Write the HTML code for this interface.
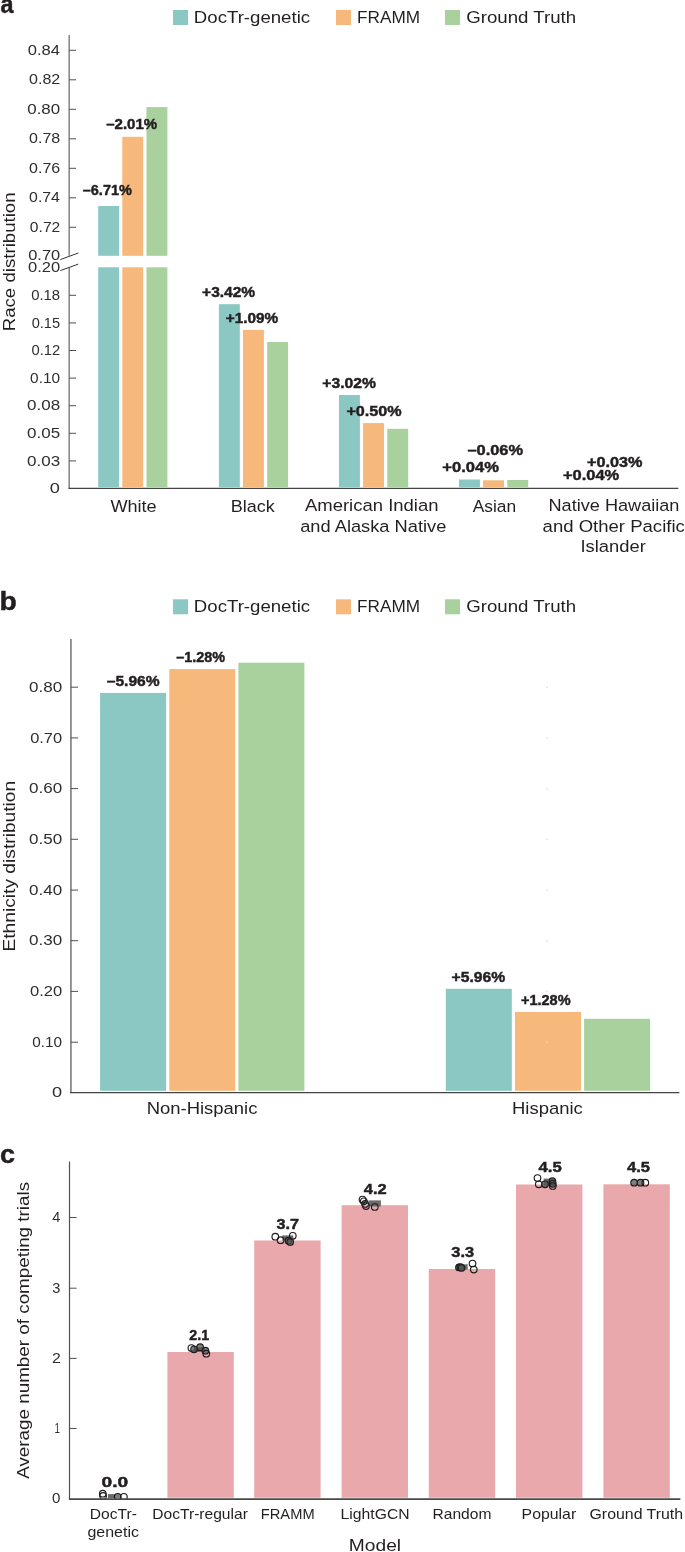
<!DOCTYPE html>
<html><head><meta charset="utf-8"><style>
html,body{margin:0;padding:0;background:#fff;overflow:hidden;}
svg{display:block;will-change:transform;}
text{font-family:"Liberation Sans", sans-serif;}
</style></head><body>
<svg width="685" height="1552" viewBox="0 0 685 1552">
<rect width="685" height="1552" fill="#ffffff"/>
<text x="0.44" y="13.13" font-size="24.92" font-weight="bold" fill="#231f20" stroke="#231f20" stroke-width="0.45" textLength="12.99" lengthAdjust="spacingAndGlyphs">a</text>
<text x="-0.54" y="610.13" font-size="24.99" font-weight="bold" fill="#231f20" stroke="#231f20" stroke-width="0.45" textLength="17.27" lengthAdjust="spacingAndGlyphs">b</text>
<text x="0.07" y="1163.23" font-size="24.92" font-weight="bold" fill="#231f20" stroke="#231f20" stroke-width="0.45" textLength="14.99" lengthAdjust="spacingAndGlyphs">c</text>
<rect x="173.00" y="10.00" width="15.00" height="15.00" fill="#8bc8c3"/>
<rect x="336.00" y="10.00" width="15.00" height="15.00" fill="#f6b97b"/>
<rect x="445.00" y="10.00" width="15.00" height="15.00" fill="#a8d19d"/>
<text x="193.88" y="22.60" font-size="16.8" font-weight="normal" fill="#231f20" textLength="116.21" lengthAdjust="spacingAndGlyphs">DocTr-genetic</text>
<text x="357.09" y="22.60" font-size="16.8" font-weight="normal" fill="#231f20" textLength="62.92" lengthAdjust="spacingAndGlyphs">FRAMM</text>
<text x="466.27" y="22.60" font-size="16.8" font-weight="normal" fill="#231f20" textLength="109.93" lengthAdjust="spacingAndGlyphs">Ground Truth</text>
<rect x="173.00" y="599.30" width="15.00" height="15.00" fill="#8bc8c3"/>
<rect x="336.00" y="599.30" width="15.00" height="15.00" fill="#f6b97b"/>
<rect x="445.00" y="599.30" width="15.00" height="15.00" fill="#a8d19d"/>
<text x="193.88" y="611.90" font-size="16.8" font-weight="normal" fill="#231f20" textLength="116.21" lengthAdjust="spacingAndGlyphs">DocTr-genetic</text>
<text x="357.09" y="611.90" font-size="16.8" font-weight="normal" fill="#231f20" textLength="62.92" lengthAdjust="spacingAndGlyphs">FRAMM</text>
<text x="466.27" y="611.90" font-size="16.8" font-weight="normal" fill="#231f20" textLength="109.93" lengthAdjust="spacingAndGlyphs">Ground Truth</text>
<line x1="69.20" y1="35.00" x2="69.20" y2="255.80" stroke="#8a8a8a" stroke-width="1.6"/>
<line x1="69.20" y1="267.30" x2="69.20" y2="488.50" stroke="#8a8a8a" stroke-width="1.6"/>
<line x1="60.30" y1="259.60" x2="78.30" y2="253.00" stroke="#333" stroke-width="1.0"/>
<line x1="60.30" y1="270.60" x2="78.30" y2="264.10" stroke="#333" stroke-width="1.0"/>
<line x1="69.20" y1="50.30" x2="76.00" y2="50.30" stroke="#505050" stroke-width="1.0"/>
<text x="27.75" y="54.90" font-size="14.8" font-weight="normal" fill="#2e2e2e" textLength="32.23" lengthAdjust="spacingAndGlyphs">0.84</text>
<line x1="69.20" y1="79.80" x2="76.00" y2="79.80" stroke="#505050" stroke-width="1.0"/>
<text x="29.07" y="84.40" font-size="14.8" font-weight="normal" fill="#2e2e2e" textLength="31.23" lengthAdjust="spacingAndGlyphs">0.82</text>
<line x1="69.20" y1="109.30" x2="76.00" y2="109.30" stroke="#505050" stroke-width="1.0"/>
<text x="27.24" y="113.90" font-size="14.8" font-weight="normal" fill="#2e2e2e" textLength="32.92" lengthAdjust="spacingAndGlyphs">0.80</text>
<line x1="69.20" y1="138.80" x2="76.00" y2="138.80" stroke="#505050" stroke-width="1.0"/>
<text x="29.08" y="143.40" font-size="14.8" font-weight="normal" fill="#2e2e2e" textLength="31.12" lengthAdjust="spacingAndGlyphs">0.78</text>
<line x1="69.20" y1="168.30" x2="76.00" y2="168.30" stroke="#505050" stroke-width="1.0"/>
<text x="29.08" y="172.90" font-size="14.8" font-weight="normal" fill="#2e2e2e" textLength="31.13" lengthAdjust="spacingAndGlyphs">0.76</text>
<line x1="69.20" y1="197.80" x2="76.00" y2="197.80" stroke="#505050" stroke-width="1.0"/>
<text x="29.08" y="202.40" font-size="14.8" font-weight="normal" fill="#2e2e2e" textLength="30.88" lengthAdjust="spacingAndGlyphs">0.74</text>
<line x1="69.20" y1="227.30" x2="76.00" y2="227.30" stroke="#505050" stroke-width="1.0"/>
<text x="29.89" y="231.90" font-size="14.8" font-weight="normal" fill="#2e2e2e" textLength="30.40" lengthAdjust="spacingAndGlyphs">0.72</text>
<line x1="69.20" y1="295.30" x2="76.00" y2="295.30" stroke="#505050" stroke-width="1.0"/>
<text x="31.22" y="299.90" font-size="14.8" font-weight="normal" fill="#2e2e2e" textLength="28.93" lengthAdjust="spacingAndGlyphs">0.18</text>
<line x1="69.20" y1="322.90" x2="76.00" y2="322.90" stroke="#505050" stroke-width="1.0"/>
<text x="31.73" y="327.50" font-size="14.8" font-weight="normal" fill="#2e2e2e" textLength="28.38" lengthAdjust="spacingAndGlyphs">0.15</text>
<line x1="69.20" y1="350.50" x2="76.00" y2="350.50" stroke="#505050" stroke-width="1.0"/>
<text x="31.52" y="355.10" font-size="14.8" font-weight="normal" fill="#2e2e2e" textLength="28.72" lengthAdjust="spacingAndGlyphs">0.12</text>
<line x1="69.20" y1="378.10" x2="76.00" y2="378.10" stroke="#505050" stroke-width="1.0"/>
<text x="30.10" y="382.70" font-size="14.8" font-weight="normal" fill="#2e2e2e" textLength="30.00" lengthAdjust="spacingAndGlyphs">0.10</text>
<line x1="69.20" y1="405.70" x2="76.00" y2="405.70" stroke="#505050" stroke-width="1.0"/>
<text x="27.14" y="410.30" font-size="14.8" font-weight="normal" fill="#2e2e2e" textLength="33.10" lengthAdjust="spacingAndGlyphs">0.08</text>
<line x1="69.20" y1="433.30" x2="76.00" y2="433.30" stroke="#505050" stroke-width="1.0"/>
<text x="27.14" y="437.90" font-size="14.8" font-weight="normal" fill="#2e2e2e" textLength="33.08" lengthAdjust="spacingAndGlyphs">0.05</text>
<line x1="69.20" y1="460.90" x2="76.00" y2="460.90" stroke="#505050" stroke-width="1.0"/>
<text x="27.14" y="465.50" font-size="14.8" font-weight="normal" fill="#2e2e2e" textLength="33.11" lengthAdjust="spacingAndGlyphs">0.03</text>
<text x="28.26" y="260.10" font-size="14.8" font-weight="normal" fill="#2e2e2e" textLength="31.88" lengthAdjust="spacingAndGlyphs">0.70</text>
<text x="27.95" y="271.90" font-size="14.8" font-weight="normal" fill="#2e2e2e" textLength="32.19" lengthAdjust="spacingAndGlyphs">0.20</text>
<text x="49.89" y="492.90" font-size="14.8" font-weight="normal" fill="#2e2e2e" textLength="10.12" lengthAdjust="spacingAndGlyphs">0</text>
<line x1="68.40" y1="488.40" x2="678.30" y2="488.40" stroke="#444" stroke-width="1.3"/>
<rect x="98.20" y="206.00" width="20.90" height="49.80" fill="#8bc8c3"/>
<rect x="98.20" y="267.30" width="20.90" height="220.00" fill="#8bc8c3"/>
<rect x="122.30" y="136.80" width="20.90" height="119.00" fill="#f6b97b"/>
<rect x="122.30" y="267.30" width="20.90" height="220.00" fill="#f6b97b"/>
<rect x="146.50" y="107.10" width="20.90" height="148.70" fill="#a8d19d"/>
<rect x="146.50" y="267.30" width="20.90" height="220.00" fill="#a8d19d"/>
<rect x="218.90" y="304.20" width="20.90" height="183.10" fill="#8bc8c3"/>
<rect x="243.00" y="329.90" width="20.90" height="157.40" fill="#f6b97b"/>
<rect x="267.20" y="342.00" width="20.90" height="145.30" fill="#a8d19d"/>
<rect x="339.00" y="395.00" width="20.90" height="92.30" fill="#8bc8c3"/>
<rect x="363.10" y="423.10" width="20.90" height="64.20" fill="#f6b97b"/>
<rect x="387.30" y="428.80" width="20.90" height="58.50" fill="#a8d19d"/>
<rect x="459.00" y="479.50" width="20.90" height="7.80" fill="#8bc8c3"/>
<rect x="483.10" y="480.30" width="20.90" height="7.00" fill="#f6b97b"/>
<rect x="507.30" y="480.00" width="20.90" height="7.30" fill="#a8d19d"/>
<text x="82.79" y="194.65" font-size="14.2" font-weight="bold" fill="#231f20" stroke="#231f20" stroke-width="0.45" textLength="49.07" lengthAdjust="spacingAndGlyphs">–6.71%</text>
<text x="106.17" y="129.05" font-size="14.2" font-weight="bold" fill="#231f20" stroke="#231f20" stroke-width="0.45" textLength="51.00" lengthAdjust="spacingAndGlyphs">–2.01%</text>
<text x="202.07" y="297.05" font-size="14.2" font-weight="bold" fill="#231f20" stroke="#231f20" stroke-width="0.45" textLength="53.11" lengthAdjust="spacingAndGlyphs">+3.42%</text>
<text x="225.68" y="322.55" font-size="14.2" font-weight="bold" fill="#231f20" stroke="#231f20" stroke-width="0.45" textLength="52.50" lengthAdjust="spacingAndGlyphs">+1.09%</text>
<text x="322.37" y="388.25" font-size="14.2" font-weight="bold" fill="#231f20" stroke="#231f20" stroke-width="0.45" textLength="53.62" lengthAdjust="spacingAndGlyphs">+3.02%</text>
<text x="346.45" y="416.05" font-size="14.2" font-weight="bold" fill="#231f20" stroke="#231f20" stroke-width="0.45" textLength="55.25" lengthAdjust="spacingAndGlyphs">+0.50%</text>
<text x="467.43" y="454.85" font-size="14.2" font-weight="bold" fill="#231f20" stroke="#231f20" stroke-width="0.45" textLength="55.58" lengthAdjust="spacingAndGlyphs">–0.06%</text>
<text x="442.33" y="471.75" font-size="14.2" font-weight="bold" fill="#231f20" stroke="#231f20" stroke-width="0.45" textLength="56.58" lengthAdjust="spacingAndGlyphs">+0.04%</text>
<text x="586.94" y="467.25" font-size="14.2" font-weight="bold" fill="#231f20" stroke="#231f20" stroke-width="0.45" textLength="55.46" lengthAdjust="spacingAndGlyphs">+0.03%</text>
<text x="562.93" y="480.45" font-size="14.2" font-weight="bold" fill="#231f20" stroke="#231f20" stroke-width="0.45" textLength="56.28" lengthAdjust="spacingAndGlyphs">+0.04%</text>
<text x="110.42" y="511.50" font-size="17.2" font-weight="normal" fill="#231f20" textLength="46.28" lengthAdjust="spacingAndGlyphs">White</text>
<text x="230.73" y="511.50" font-size="17.2" font-weight="normal" fill="#231f20" textLength="43.95" lengthAdjust="spacingAndGlyphs">Black</text>
<text x="304.96" y="511.30" font-size="17.2" font-weight="normal" fill="#231f20" textLength="133.54" lengthAdjust="spacingAndGlyphs">American Indian</text>
<text x="300.23" y="531.80" font-size="17.2" font-weight="normal" fill="#231f20" textLength="146.08" lengthAdjust="spacingAndGlyphs">and Alaska Native</text>
<text x="472.67" y="511.50" font-size="17.2" font-weight="normal" fill="#231f20" textLength="43.46" lengthAdjust="spacingAndGlyphs">Asian</text>
<text x="548.51" y="511.30" font-size="17.2" font-weight="normal" fill="#231f20" textLength="130.96" lengthAdjust="spacingAndGlyphs">Native Hawaiian</text>
<text x="542.61" y="531.60" font-size="17.2" font-weight="normal" fill="#231f20" textLength="142.18" lengthAdjust="spacingAndGlyphs">and Other Pacific</text>
<text x="580.51" y="551.90" font-size="17.2" font-weight="normal" fill="#231f20" textLength="65.30" lengthAdjust="spacingAndGlyphs">Islander</text>
<text transform="translate(14.80,329.80) rotate(-90)" x="-1.53" y="0" font-size="16.8" font-weight="normal" fill="#231f20" textLength="138.94" lengthAdjust="spacingAndGlyphs">Race distribution</text>
<line x1="70.90" y1="639.00" x2="70.90" y2="1092.50" stroke="#8a8a8a" stroke-width="1.8"/>
<line x1="70.90" y1="687.20" x2="78.00" y2="687.20" stroke="#505050" stroke-width="1.0"/>
<text x="29.04" y="691.80" font-size="14.8" font-weight="normal" fill="#2e2e2e" textLength="33.13" lengthAdjust="spacingAndGlyphs">0.80</text>
<line x1="70.90" y1="737.90" x2="78.00" y2="737.90" stroke="#505050" stroke-width="1.0"/>
<text x="30.16" y="742.50" font-size="14.8" font-weight="normal" fill="#2e2e2e" textLength="31.98" lengthAdjust="spacingAndGlyphs">0.70</text>
<line x1="70.90" y1="788.60" x2="78.00" y2="788.60" stroke="#505050" stroke-width="1.0"/>
<text x="29.04" y="793.20" font-size="14.8" font-weight="normal" fill="#2e2e2e" textLength="33.13" lengthAdjust="spacingAndGlyphs">0.60</text>
<line x1="70.90" y1="839.30" x2="78.00" y2="839.30" stroke="#505050" stroke-width="1.0"/>
<text x="29.04" y="843.90" font-size="14.8" font-weight="normal" fill="#2e2e2e" textLength="33.13" lengthAdjust="spacingAndGlyphs">0.50</text>
<line x1="70.90" y1="890.10" x2="78.00" y2="890.10" stroke="#505050" stroke-width="1.0"/>
<text x="29.04" y="894.70" font-size="14.8" font-weight="normal" fill="#2e2e2e" textLength="33.13" lengthAdjust="spacingAndGlyphs">0.40</text>
<line x1="70.90" y1="940.70" x2="78.00" y2="940.70" stroke="#505050" stroke-width="1.0"/>
<text x="29.04" y="945.30" font-size="14.8" font-weight="normal" fill="#2e2e2e" textLength="33.13" lengthAdjust="spacingAndGlyphs">0.30</text>
<line x1="70.90" y1="991.40" x2="78.00" y2="991.40" stroke="#505050" stroke-width="1.0"/>
<text x="29.95" y="996.00" font-size="14.8" font-weight="normal" fill="#2e2e2e" textLength="32.19" lengthAdjust="spacingAndGlyphs">0.20</text>
<line x1="70.90" y1="1042.20" x2="78.00" y2="1042.20" stroke="#505050" stroke-width="1.0"/>
<text x="32.30" y="1046.80" font-size="14.8" font-weight="normal" fill="#2e2e2e" textLength="29.80" lengthAdjust="spacingAndGlyphs">0.10</text>
<text x="52.09" y="1097.40" font-size="14.8" font-weight="normal" fill="#2e2e2e" textLength="10.12" lengthAdjust="spacingAndGlyphs">0</text>
<line x1="70.00" y1="1092.60" x2="679.30" y2="1092.60" stroke="#444" stroke-width="1.3"/>
<rect x="100.10" y="692.90" width="66.00" height="397.90" fill="#8bc8c3"/>
<rect x="169.30" y="669.10" width="66.00" height="421.70" fill="#f6b97b"/>
<rect x="238.40" y="662.70" width="66.00" height="428.10" fill="#a8d19d"/>
<rect x="445.80" y="988.80" width="66.00" height="102.00" fill="#8bc8c3"/>
<rect x="515.00" y="1012.00" width="66.00" height="78.80" fill="#f6b97b"/>
<rect x="584.10" y="1018.80" width="66.00" height="72.00" fill="#a8d19d"/>
<text x="106.75" y="685.95" font-size="14.2" font-weight="bold" fill="#231f20" stroke="#231f20" stroke-width="0.45" textLength="52.93" lengthAdjust="spacingAndGlyphs">–5.96%</text>
<text x="176.19" y="662.05" font-size="14.2" font-weight="bold" fill="#231f20" stroke="#231f20" stroke-width="0.45" textLength="48.87" lengthAdjust="spacingAndGlyphs">–1.28%</text>
<text x="451.57" y="981.55" font-size="14.2" font-weight="bold" fill="#231f20" stroke="#231f20" stroke-width="0.45" textLength="53.62" lengthAdjust="spacingAndGlyphs">+5.96%</text>
<text x="520.92" y="1004.95" font-size="14.2" font-weight="bold" fill="#231f20" stroke="#231f20" stroke-width="0.45" textLength="49.64" lengthAdjust="spacingAndGlyphs">+1.28%</text>
<text x="146.69" y="1114.00" font-size="17.2" font-weight="normal" fill="#231f20" textLength="110.70" lengthAdjust="spacingAndGlyphs">Non-Hispanic</text>
<text x="511.99" y="1114.00" font-size="17.2" font-weight="normal" fill="#231f20" textLength="70.80" lengthAdjust="spacingAndGlyphs">Hispanic</text>
<text transform="translate(14.80,950.00) rotate(-90)" x="-1.58" y="0" font-size="16.8" font-weight="normal" fill="#231f20" textLength="170.82" lengthAdjust="spacingAndGlyphs">Ethnicity distribution</text>
<rect x="546.50" y="686.50" width="1.40" height="1.40" fill="#dcdcdc"/>
<rect x="546.50" y="737.20" width="1.40" height="1.40" fill="#dcdcdc"/>
<rect x="546.50" y="787.90" width="1.40" height="1.40" fill="#dcdcdc"/>
<rect x="546.50" y="838.70" width="1.40" height="1.40" fill="#dcdcdc"/>
<rect x="546.50" y="889.40" width="1.40" height="1.40" fill="#dcdcdc"/>
<rect x="546.50" y="940.10" width="1.40" height="1.40" fill="#dcdcdc"/>
<rect x="546.50" y="990.80" width="1.40" height="1.40" fill="#dcdcdc"/>
<rect x="546.50" y="1041.50" width="1.40" height="1.40" fill="#dcdcdc"/>
<line x1="69.50" y1="1161.60" x2="69.50" y2="1499.20" stroke="#505050" stroke-width="1.2"/>
<line x1="69.50" y1="1217.50" x2="76.60" y2="1217.50" stroke="#505050" stroke-width="1.0"/>
<line x1="69.50" y1="1288.20" x2="76.60" y2="1288.20" stroke="#505050" stroke-width="1.0"/>
<line x1="69.50" y1="1358.40" x2="76.60" y2="1358.40" stroke="#505050" stroke-width="1.0"/>
<line x1="69.50" y1="1428.50" x2="76.60" y2="1428.50" stroke="#505050" stroke-width="1.0"/>
<text x="52.27" y="1222.10" font-size="14.8" font-weight="normal" fill="#2e2e2e" textLength="8.06" lengthAdjust="spacingAndGlyphs">4</text>
<text x="52.25" y="1292.80" font-size="14.8" font-weight="normal" fill="#2e2e2e" textLength="8.09" lengthAdjust="spacingAndGlyphs">3</text>
<text x="52.01" y="1363.00" font-size="14.8" font-weight="normal" fill="#2e2e2e" textLength="8.79" lengthAdjust="spacingAndGlyphs">2</text>
<text x="54.46" y="1433.10" font-size="14.8" font-weight="normal" fill="#2e2e2e" textLength="5.42" lengthAdjust="spacingAndGlyphs">1</text>
<text x="52.01" y="1503.20" font-size="14.8" font-weight="normal" fill="#2e2e2e" textLength="8.38" lengthAdjust="spacingAndGlyphs">0</text>
<line x1="68.90" y1="1499.10" x2="680.40" y2="1499.10" stroke="#4a4a4a" stroke-width="1.6"/>
<rect x="167.40" y="1352.00" width="66.40" height="145.80" fill="#e9a8ac"/>
<rect x="254.20" y="1240.50" width="66.40" height="257.30" fill="#e9a8ac"/>
<rect x="341.60" y="1205.20" width="66.40" height="292.60" fill="#e9a8ac"/>
<rect x="428.80" y="1269.00" width="66.40" height="228.80" fill="#e9a8ac"/>
<rect x="516.00" y="1184.50" width="66.40" height="313.30" fill="#e9a8ac"/>
<rect x="603.40" y="1184.30" width="66.40" height="313.50" fill="#e9a8ac"/>
<text x="101.47" y="1486.85" font-size="14.2" font-weight="bold" fill="#231f20" stroke="#231f20" stroke-width="0.45" textLength="26.70" lengthAdjust="spacingAndGlyphs">0.0</text>
<text x="189.33" y="1339.75" font-size="14.2" font-weight="bold" fill="#231f20" stroke="#231f20" stroke-width="0.45" textLength="19.74" lengthAdjust="spacingAndGlyphs">2.1</text>
<text x="276.45" y="1228.85" font-size="14.2" font-weight="bold" fill="#231f20" stroke="#231f20" stroke-width="0.45" textLength="22.53" lengthAdjust="spacingAndGlyphs">3.7</text>
<text x="363.78" y="1193.85" font-size="14.2" font-weight="bold" fill="#231f20" stroke="#231f20" stroke-width="0.45" textLength="22.86" lengthAdjust="spacingAndGlyphs">4.2</text>
<text x="451.35" y="1256.55" font-size="14.2" font-weight="bold" fill="#231f20" stroke="#231f20" stroke-width="0.45" textLength="22.82" lengthAdjust="spacingAndGlyphs">3.3</text>
<text x="538.57" y="1172.05" font-size="14.2" font-weight="bold" fill="#231f20" stroke="#231f20" stroke-width="0.45" textLength="23.17" lengthAdjust="spacingAndGlyphs">4.5</text>
<text x="626.98" y="1172.25" font-size="14.2" font-weight="bold" fill="#231f20" stroke="#231f20" stroke-width="0.45" textLength="22.96" lengthAdjust="spacingAndGlyphs">4.5</text>
<defs><clipPath id="cc"><rect x="70" y="1150" width="615" height="348.4"/></clipPath></defs><g clip-path="url(#cc)">
<rect x="107.90" y="1494.10" width="7.30" height="4.70" fill="#6b6b6b"/>
<circle cx="102.8" cy="1493.7" r="3.3" fill="none" fill-opacity="0.75" stroke="#1c1c1c" stroke-width="1.15"/>
<circle cx="103.1" cy="1495.9" r="3.3" fill="none" fill-opacity="0.75" stroke="#1c1c1c" stroke-width="1.15"/>
<circle cx="117.7" cy="1496.8" r="3.3" fill="#555555" fill-opacity="0.75" stroke="#1c1c1c" stroke-width="1.15"/>
<circle cx="123.9" cy="1496.8" r="3.3" fill="none" fill-opacity="0.75" stroke="#1c1c1c" stroke-width="1.15"/>
<rect x="194.00" y="1347.00" width="11.00" height="5.00" fill="#6b6b6b"/>
<circle cx="191.4" cy="1348.0" r="3.3" fill="none" fill-opacity="0.75" stroke="#1c1c1c" stroke-width="1.15"/>
<circle cx="194.0" cy="1349.3" r="3.3" fill="#555555" fill-opacity="0.75" stroke="#1c1c1c" stroke-width="1.15"/>
<circle cx="200.1" cy="1347.2" r="3.3" fill="#555555" fill-opacity="0.75" stroke="#1c1c1c" stroke-width="1.15"/>
<circle cx="205.4" cy="1350.7" r="3.3" fill="#555555" fill-opacity="0.75" stroke="#1c1c1c" stroke-width="1.15"/>
<circle cx="206.3" cy="1353.7" r="3.3" fill="none" fill-opacity="0.75" stroke="#1c1c1c" stroke-width="1.15"/>
<rect x="282.30" y="1235.40" width="11.00" height="5.30" fill="#6b6b6b"/>
<circle cx="275.3" cy="1236.7" r="3.3" fill="none" fill-opacity="0.75" stroke="#1c1c1c" stroke-width="1.15"/>
<circle cx="280.6" cy="1240.2" r="3.3" fill="none" fill-opacity="0.75" stroke="#1c1c1c" stroke-width="1.15"/>
<circle cx="288.5" cy="1240.7" r="3.3" fill="#555555" fill-opacity="0.75" stroke="#1c1c1c" stroke-width="1.15"/>
<circle cx="290.2" cy="1242.0" r="3.3" fill="#555555" fill-opacity="0.75" stroke="#1c1c1c" stroke-width="1.15"/>
<circle cx="292.8" cy="1235.8" r="3.3" fill="none" fill-opacity="0.75" stroke="#1c1c1c" stroke-width="1.15"/>
<rect x="368.60" y="1200.40" width="12.30" height="6.10" fill="#6b6b6b"/>
<circle cx="362.5" cy="1199.5" r="3.3" fill="none" fill-opacity="0.75" stroke="#1c1c1c" stroke-width="1.15"/>
<circle cx="363.8" cy="1201.3" r="3.3" fill="none" fill-opacity="0.75" stroke="#1c1c1c" stroke-width="1.15"/>
<circle cx="365.1" cy="1203.9" r="3.3" fill="none" fill-opacity="0.75" stroke="#1c1c1c" stroke-width="1.15"/>
<circle cx="366.0" cy="1206.1" r="3.3" fill="none" fill-opacity="0.75" stroke="#1c1c1c" stroke-width="1.15"/>
<circle cx="374.8" cy="1207.0" r="3.3" fill="none" fill-opacity="0.75" stroke="#1c1c1c" stroke-width="1.15"/>
<rect x="456.30" y="1264.30" width="11.40" height="5.30" fill="#6b6b6b"/>
<circle cx="459.0" cy="1267.4" r="3.3" fill="#555555" fill-opacity="0.75" stroke="#1c1c1c" stroke-width="1.15"/>
<circle cx="460.5" cy="1267.0" r="3.3" fill="#555555" fill-opacity="0.75" stroke="#1c1c1c" stroke-width="1.15"/>
<circle cx="461.5" cy="1268.0" r="3.3" fill="#555555" fill-opacity="0.75" stroke="#1c1c1c" stroke-width="1.15"/>
<circle cx="472.5" cy="1263.5" r="3.3" fill="none" fill-opacity="0.75" stroke="#1c1c1c" stroke-width="1.15"/>
<circle cx="473.8" cy="1269.6" r="3.3" fill="none" fill-opacity="0.75" stroke="#1c1c1c" stroke-width="1.15"/>
<rect x="543.70" y="1178.60" width="11.30" height="7.40" fill="#6b6b6b"/>
<circle cx="537.5" cy="1178.0" r="3.3" fill="none" fill-opacity="0.75" stroke="#1c1c1c" stroke-width="1.15"/>
<circle cx="538.8" cy="1184.3" r="3.3" fill="none" fill-opacity="0.75" stroke="#1c1c1c" stroke-width="1.15"/>
<circle cx="545.0" cy="1184.3" r="3.3" fill="#555555" fill-opacity="0.75" stroke="#1c1c1c" stroke-width="1.15"/>
<circle cx="552.4" cy="1181.2" r="3.3" fill="#555555" fill-opacity="0.75" stroke="#1c1c1c" stroke-width="1.15"/>
<circle cx="552.8" cy="1183.8" r="3.3" fill="#555555" fill-opacity="0.75" stroke="#1c1c1c" stroke-width="1.15"/>
<circle cx="552.8" cy="1186.0" r="3.3" fill="none" fill-opacity="0.75" stroke="#1c1c1c" stroke-width="1.15"/>
<circle cx="634.1" cy="1182.7" r="3.3" fill="#555555" fill-opacity="0.75" stroke="#1c1c1c" stroke-width="1.15"/>
<circle cx="640.5" cy="1182.7" r="3.3" fill="#555555" fill-opacity="0.75" stroke="#1c1c1c" stroke-width="1.15"/>
<circle cx="645.3" cy="1182.7" r="3.3" fill="none" fill-opacity="0.75" stroke="#1c1c1c" stroke-width="1.15"/>
</g>
<text x="89.84" y="1518.70" font-size="14.2" font-weight="normal" fill="#231f20" textLength="47.05" lengthAdjust="spacingAndGlyphs">DocTr-</text>
<text x="87.43" y="1536.60" font-size="14.2" font-weight="normal" fill="#231f20" textLength="51.49" lengthAdjust="spacingAndGlyphs">genetic</text>
<text x="152.33" y="1518.80" font-size="14.2" font-weight="normal" fill="#231f20" textLength="95.53" lengthAdjust="spacingAndGlyphs">DocTr-regular</text>
<text x="260.80" y="1518.80" font-size="14.2" font-weight="normal" fill="#231f20" textLength="53.81" lengthAdjust="spacingAndGlyphs">FRAMM</text>
<text x="340.61" y="1518.80" font-size="14.2" font-weight="normal" fill="#231f20" textLength="68.97" lengthAdjust="spacingAndGlyphs">LightGCN</text>
<text x="432.52" y="1518.80" font-size="14.2" font-weight="normal" fill="#231f20" textLength="58.91" lengthAdjust="spacingAndGlyphs">Random</text>
<text x="521.60" y="1518.80" font-size="14.2" font-weight="normal" fill="#231f20" textLength="54.56" lengthAdjust="spacingAndGlyphs">Popular</text>
<text x="589.51" y="1518.80" font-size="14.2" font-weight="normal" fill="#231f20" textLength="93.61" lengthAdjust="spacingAndGlyphs">Ground Truth</text>
<text x="348.83" y="1550.90" font-size="16.3" font-weight="normal" fill="#231f20" textLength="52.26" lengthAdjust="spacingAndGlyphs">Model</text>
<text transform="translate(28.70,1478.80) rotate(-90)" x="-0.04" y="0" font-size="16.8" font-weight="normal" fill="#231f20" textLength="296.92" lengthAdjust="spacingAndGlyphs">Average number of competing trials</text>
</svg>
</body></html>
